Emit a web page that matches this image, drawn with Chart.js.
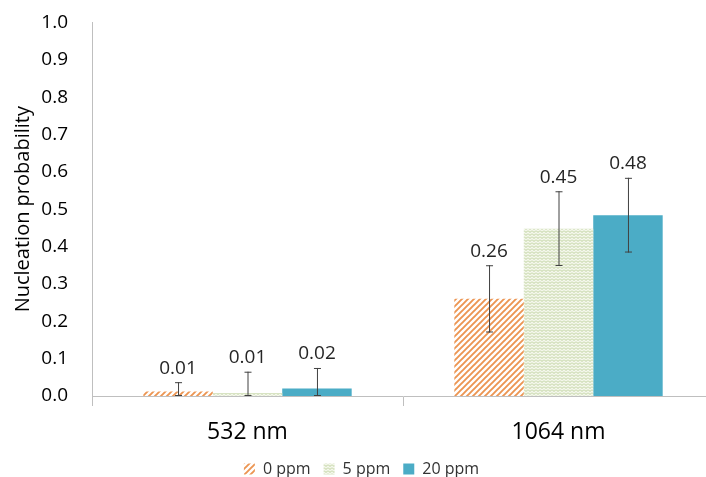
<!DOCTYPE html>
<html>
<head>
<meta charset="utf-8">
<script src="https://cdn.jsdelivr.net/npm/chart.js@4"></script>
<style>
  html, body { margin:0; padding:0; background:#fff; overflow:hidden; }
  #wrap { width:722px; height:500px; margin-top:-13px; }
</style>
</head>
<body>
<div id="wrap"><canvas id="c" width="722" height="500"></canvas></div>
<script>
// nucleation probability, two wavelengths x three concentrations
const categories = ['532 nm', '1064 nm'];
const seriesNames = ['0 ppm', '5 ppm', '20 ppm'];
const values0 = [0.012, 0.26];
const values5 = [0.008, 0.448];
const values20 = [0.02, 0.484];
const err0 = [0.025, 0.09];
const err5 = [0.057, 0.1];
const err20 = [0.055, 0.1];
const labels0 = ['0.01', '0.26'];
const labels5 = ['0.01', '0.45'];
const labels20 = ['0.02', '0.48'];
const yTicks = [0, 0.1, 0.2, 0.3, 0.4, 0.5, 0.6, 0.7, 0.8, 0.9, 1.0];

const FONT = "'Open Sans', 'Noto Sans', sans-serif";

function hatch() {
  const c = document.createElement('canvas'); c.width = 6; c.height = 6;
  const g = c.getContext('2d');
  g.fillStyle = '#fff'; g.fillRect(0,0,6,6);
  g.strokeStyle = '#ec9552'; g.lineWidth = 1.9;
  g.beginPath();
  g.moveTo(-1,7); g.lineTo(7,-1);
  g.moveTo(-4,4); g.lineTo(4,-4);
  g.moveTo(2,10); g.lineTo(10,2);
  g.stroke();
  return g.createPattern(c, 'repeat');
}
function zigzag() {
  const c = document.createElement('canvas'); c.width = 4; c.height = 3;
  const g = c.getContext('2d');
  g.fillStyle = '#f4f7ec'; g.fillRect(0,0,4,3);
  g.strokeStyle = '#bcd09a'; g.lineWidth = 1;
  g.beginPath();
  g.moveTo(0,0.5); g.lineTo(2,2.5); g.lineTo(4,0.5);
  g.stroke();
  return g.createPattern(c, 'repeat');
}

const errs = [err0, err5, err20];
const txt = [labels0, labels5, labels20];

const extras = {
  id: 'extras',
  afterDatasetsDraw(chart) {
    const ctx = chart.ctx, y = chart.scales.y;
    ctx.save();
    chart.data.datasets.forEach((ds, i) => {
      const meta = chart.getDatasetMeta(i);
      meta.data.forEach((bar, j) => {
        const v = ds.data[j], e = errs[i][j];
        const top = y.getPixelForValue(v + e);
        const bot = y.getPixelForValue(Math.max(0, v - e));
        ctx.strokeStyle = '#404040'; ctx.lineWidth = 1;
        ctx.beginPath();
        ctx.moveTo(bar.x + 0.5, top); ctx.lineTo(bar.x + 0.5, bot);
        ctx.moveTo(bar.x - 3, top + 0.5); ctx.lineTo(bar.x + 4, top + 0.5);
        ctx.moveTo(bar.x - 3, bot - 0.5); ctx.lineTo(bar.x + 4, bot - 0.5);
        ctx.stroke();
        ctx.fillStyle = '#262626';
        ctx.font = '19px ' + FONT;
        ctx.textAlign = 'center'; ctx.textBaseline = 'middle';
        ctx.fillText(txt[i][j], bar.x, top - 14);
      });
    });
    ctx.restore();
  }
};

new Chart(document.getElementById('c'), {
  type: 'bar',
  data: {
    labels: categories,
    datasets: [
      { label: seriesNames[0], data: values0, backgroundColor: hatch() },
      { label: seriesNames[1], data: values5, backgroundColor: zigzag() },
      { label: seriesNames[2], data: values20, backgroundColor: '#4bacc6' }
    ]
  },
  options: {
    responsive: false,
    animation: false,
    layout: { padding: { top: 0, right: 8, left: 9, bottom: 0 } },
    datasets: { bar: { categoryPercentage: 0.67, barPercentage: 1.0 } },
    plugins: {
      legend: {
        position: 'bottom',
        labels: { boxWidth: 11, boxHeight: 11, color: '#333', font: { family: FONT, size: 16 }, padding: 13 }
      },
      tooltip: { enabled: false }
    },
    scales: {
      x: {
        afterFit: s => { s.height = 52; },
        grid: { display: true, drawOnChartArea: false, tickLength: 10, color: '#bfbfbf', offset: true },
        border: { color: '#bfbfbf' },
        ticks: { color: '#000', font: { family: FONT, size: 23 }, padding: 13 }
      },
      y: {
        min: 0, max: 1,
        afterFit: s => { s.width = 83; },
        afterBuildTicks: s => { s.ticks = yTicks.map(v => ({ value: v })); },
        grid: { display: false, drawTicks: false },
        border: { display: true, color: '#bfbfbf' },
        ticks: { color: '#000', font: { family: FONT, size: 19 }, padding: 24, callback: v => v.toFixed(1) },
        title: { display: true, text: 'Nucleation probability', color: '#000', font: { family: FONT, size: 20 }, padding: 2 }
      }
    }
  },
  plugins: [extras]
});
</script>
</body>
</html>
